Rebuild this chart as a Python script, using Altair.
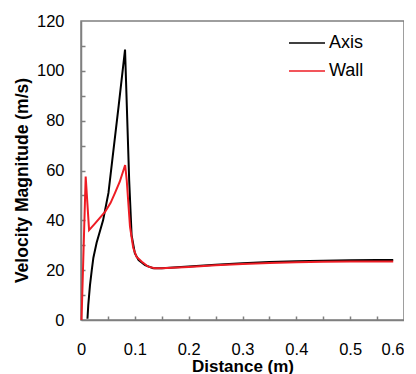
import altair as alt
import pandas as pd

# ---- data ----
axis_x = [0.012, 0.0135, 0.0167, 0.020, 0.023, 0.029, 0.035, 0.041, 0.051, 0.058,
          0.070, 0.0818, 0.0895, 0.094, 0.100, 0.107, 0.119, 0.134, 0.15, 0.2,
          0.25, 0.3, 0.35, 0.4, 0.45, 0.5, 0.55, 0.58]
axis_y = [0.5, 6, 14, 20, 25, 31, 35.5, 40, 51, 64,
          86, 108.5, 56, 34, 26.8, 24, 22, 20.8, 20.8, 21.5,
          22.2, 22.8, 23.3, 23.6, 23.8, 24.0, 24.1, 24.1]
wall_x = [0.001, 0.0087, 0.015, 0.025, 0.035, 0.045, 0.055, 0.063, 0.072, 0.082,
          0.085, 0.091, 0.097, 0.103, 0.113, 0.125, 0.137, 0.15, 0.2, 0.25,
          0.3, 0.35, 0.4, 0.45, 0.5, 0.55, 0.58]
wall_y = [0, 57.6, 36.1, 38.5, 41, 43.5, 47, 50.9, 55.5, 62.2,
          56, 37.5, 29, 25.4, 23.4, 21.4, 20.8, 20.8, 21.3, 22.0,
          22.5, 22.9, 23.2, 23.4, 23.5, 23.5, 23.5]

series_names = ["Axis", "Wall"]
series_colors = ["#000000", "#ee1c24"]

x_labels = [0, 0.1, 0.2, 0.3, 0.4, 0.5, 0.6]
y_labels = [0, 20, 40, 60, 80, 100, 120]
x_minor = [0.05, 0.1, 0.15, 0.2, 0.25, 0.3, 0.35, 0.4, 0.45, 0.5, 0.55]
y_minor = [10, 20, 30, 40, 50, 60, 70, 80, 90, 100, 110]

df = pd.concat([
    pd.DataFrame({"x": axis_x, "y": axis_y, "series": "Axis", "i": range(len(axis_x))}),
    pd.DataFrame({"x": wall_x, "y": wall_y, "series": "Wall", "i": range(len(wall_x))}),
], ignore_index=True)

FONT = "Liberation Sans"
W, H = 323, 299
xscale = alt.Scale(domain=[0, 0.6], nice=False, zero=False)
yscale = alt.Scale(domain=[0, 120], nice=False, zero=False)

lines = alt.Chart(df).mark_line(strokeWidth=2).encode(
    x=alt.X("x:Q", scale=xscale,
            axis=alt.Axis(values=x_labels, format="~g", title="Distance (m)",
                          ticks=False, tickSize=0, grid=False,
                          labelFont=FONT, labelFontSize=16.5, labelColor="#000",
                          labelBaseline="alphabetic", labelPadding=34,
                          labelAlign={"condition": {"test": "datum.value >= 0.6", "value": "right"},
                                      "value": "center"},
                          labelFlush=False, labelOverlap=False,
                          domainColor="#7f7f7f", domainWidth=1.5,
                          titleFont=FONT, titleFontSize=17, titleFontWeight="bold",
                          titleColor="#000", titleBaseline="alphabetic",
                          titleX=W / 2, titleY=51)),
    y=alt.Y("y:Q", scale=yscale,
            axis=alt.Axis(values=y_labels, title="Velocity Magnitude (m/s)",
                          ticks=False, tickSize=0, grid=False,
                          labelFont=FONT, labelFontSize=16.5, labelColor="#000",
                          labelPadding=17, labelFlush=False, labelOverlap=False,
                          domainColor="#7f7f7f", domainWidth=1.5,
                          titleFont=FONT, titleFontSize=17.5, titleFontWeight="bold",
                          titleColor="#000", titleBaseline="middle",
                          titleX=-59, titleY=159)),
    color=alt.Color("series:N",
                    scale=alt.Scale(domain=series_names, range=series_colors),
                    legend=alt.Legend(title=None, orient="none", legendX=207, legendY=8,
                                      symbolType="stroke", symbolSize=1296,
                                      symbolStrokeWidth=1.5, clipHeight=28,
                                      rowPadding=0, padding=0, labelOffset=3,
                                      labelFont=FONT, labelFontSize=18,
                                      labelColor="#000")),
    order="i:Q",
)

ticks_layer = alt.Chart(df).mark_point(opacity=0).encode(
    x=alt.X("x:Q", scale=xscale,
            axis=alt.Axis(orient="top", offset=-H, values=x_minor, labels=False,
                          domain=False, ticks=True, tickSize=4, tickColor="#7f7f7f",
                          tickWidth=1.5, grid=False, title=None)),
    y=alt.Y("y:Q", scale=yscale,
            axis=alt.Axis(orient="right", offset=-W, values=y_minor, labels=False,
                          domain=False, ticks=True, tickSize=4, tickColor="#7f7f7f",
                          tickWidth=1.5, grid=False, title=None)),
)

chart = alt.layer(lines, ticks_layer).resolve_axis(
    x="independent", y="independent"
).properties(
    width=W, height=H,
    autosize=alt.AutoSizeParams(type="none"),
    padding={"left": 73, "top": 13, "right": 0, "bottom": 54},
    background="white",
).configure_view(stroke="#7f7f7f", strokeWidth=1.5)

chart.save("out.html", embed_options={"renderer": "svg", "actions": False})
